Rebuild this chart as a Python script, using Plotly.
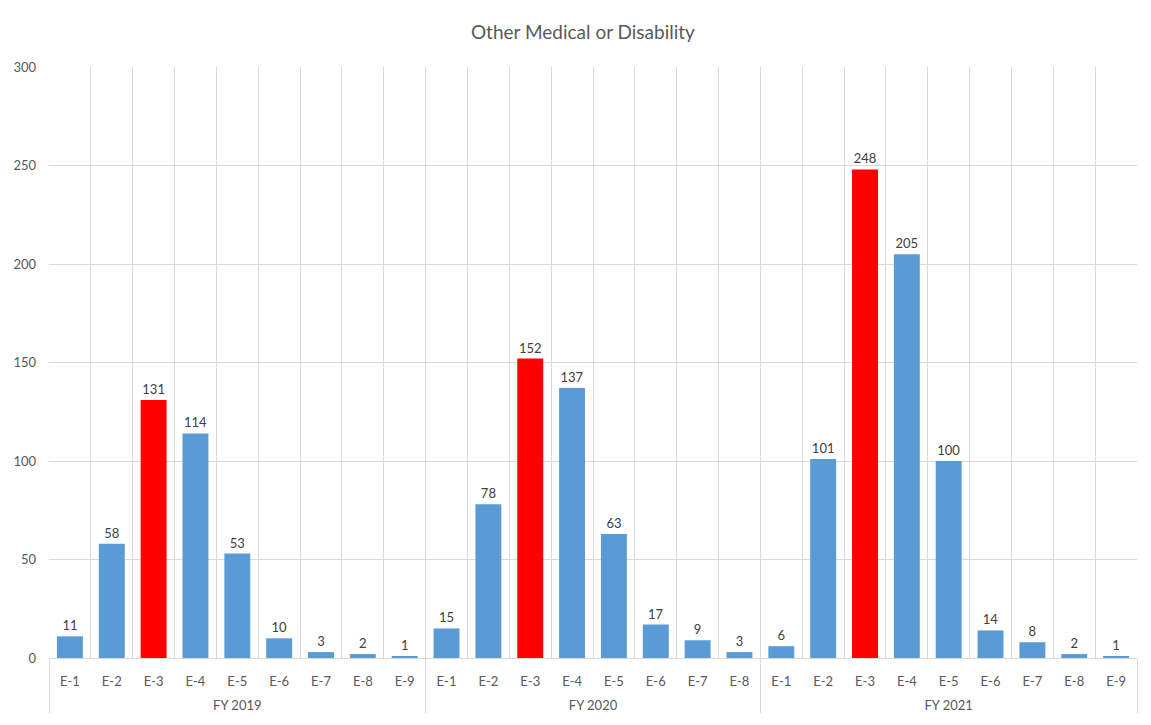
import plotly.graph_objects as go

# --- Data ---
FISCAL_YEARS = ["FY 2019", "FY 2020", "FY 2021"]
RANKS_2019 = ["E-1", "E-2", "E-3", "E-4", "E-5", "E-6", "E-7", "E-8", "E-9"]
RANKS_2020 = ["E-1", "E-2", "E-3", "E-4", "E-5", "E-6", "E-7", "E-8"]
RANKS_2021 = ["E-1", "E-2", "E-3", "E-4", "E-5", "E-6", "E-7", "E-8", "E-9"]
COUNTS_2019 = [11, 58, 131, 114, 53, 10, 3, 2, 1]
COUNTS_2020 = [15, 78, 152, 137, 63, 17, 9, 3]
COUNTS_2021 = [6, 101, 248, 205, 100, 14, 8, 2, 1]
HIGHLIGHT_RANK = "E-3"

# --- Colors ---
BAR_COLOR = "#5B9BD5"
HIGHLIGHT_COLOR = "#FF0000"
TEXT_COLOR = "#595959"
GRID_COLOR = "#D9D9D9"
LIGHT_GRID_COLOR = "#EDEDED"
FONT = "Lato, 'Open Sans', sans-serif"

years, ranks, values = [], [], []
for fy, rk, vals in zip(FISCAL_YEARS,
                        [RANKS_2019, RANKS_2020, RANKS_2021],
                        [COUNTS_2019, COUNTS_2020, COUNTS_2021]):
    years += [fy] * len(rk)
    ranks += rk
    values += vals

colors = [HIGHLIGHT_COLOR if r == HIGHLIGHT_RANK else BAR_COLOR for r in ranks]
n_bars = len(values)

# trailing blank line pushes the fiscal-year row further down
rank_labels = [r + "<br> " for r in ranks]

fig = go.Figure()
fig.add_trace(
    go.Bar(
        x=[years, rank_labels],
        y=values,
        marker=dict(color=colors, line=dict(width=0)),
        text=[str(v) for v in values],
        textposition="outside",
        textfont=dict(color="#404040", size=13, family=FONT),
        cliponaxis=False,
        showlegend=False,
    )
)

# the page body adds an 8px offset, so the figure is 8px smaller on each side used
fig.update_layout(
    title=dict(
        text="Other Medical or Disability",
        x=0.503, xanchor="center",
        y=0.9665, yanchor="middle",
        font=dict(size=19, color=TEXT_COLOR, family=FONT),
    ),
    width=1143,
    height=717,
    paper_bgcolor="white",
    plot_bgcolor="white",
    font=dict(family=FONT, color=TEXT_COLOR, size=13),
    bargap=0.38,
    margin=dict(l=41, r=14, t=59, b=67, autoexpand=False),
    xaxis=dict(
        type="multicategory",
        tickson="boundaries",
        showgrid=True,
        gridcolor=GRID_COLOR,
        gridwidth=1,
        ticks="",
        showline=True,
        linecolor=GRID_COLOR,
        showdividers=True,
        dividercolor=GRID_COLOR,
        dividerwidth=1,
        ticklabelstandoff=11,
        tickfont=dict(size=13, color=TEXT_COLOR),
        range=[-0.5, n_bars - 0.5],
    ),
    # overlay axis giving the faint line through each bar centre
    xaxis2=dict(
        overlaying="x",
        anchor="y",
        range=[-0.5, n_bars - 0.5],
        tick0=0,
        dtick=1,
        showgrid=True,
        gridcolor=LIGHT_GRID_COLOR,
        showticklabels=False,
        ticks="",
        zeroline=False,
        showline=False,
    ),
    yaxis=dict(
        range=[0, 300],
        dtick=50,
        showgrid=True,
        gridcolor=GRID_COLOR,
        zeroline=True,
        zerolinecolor=GRID_COLOR,
        zerolinewidth=1,
        showline=False,
        ticks="",
        ticklabelstandoff=12,
        tickfont=dict(size=13, color=TEXT_COLOR),
    ),
)

fig.write_html("out.html")
